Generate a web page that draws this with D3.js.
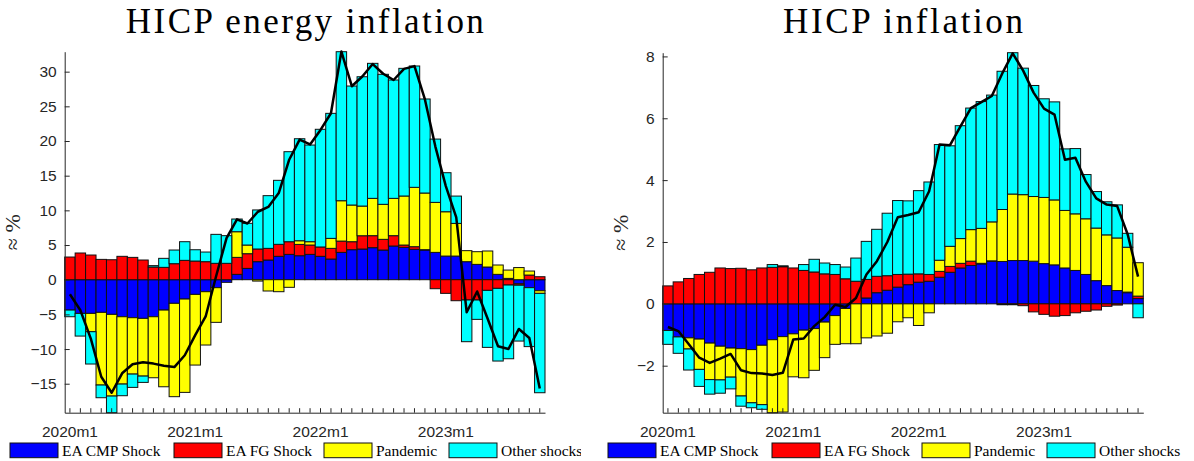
<!DOCTYPE html>
<html><head><meta charset="utf-8">
<script src="https://cdn.jsdelivr.net/npm/d3@7"></script>
<style>body{margin:0;background:#fff}svg{display:block}</style>
</head><body>
<script>
const months = ["2020m1","2020m2","2020m3","2020m4","2020m5","2020m6","2020m7","2020m8","2020m9","2020m10","2020m11","2020m12",
"2021m1","2021m2","2021m3","2021m4","2021m5","2021m6","2021m7","2021m8","2021m9","2021m10","2021m11","2021m12",
"2022m1","2022m2","2022m3","2022m4","2022m5","2022m6","2022m7","2022m8","2022m9","2022m10","2022m11","2022m12",
"2023m1","2023m2","2023m3","2023m4","2023m5","2023m6","2023m7","2023m8","2023m9","2023m10"];
const xTickLabels = ["2020m1","2021m1","2022m1","2023m1"];
const seriesNames = ["EA CMP Shock","EA FG Shock","Pandemic","Other shocks"];
const seriesColors = ["#0000ff","#ff0000","#ffff00","#00ffff"];

// HICP energy inflation
const energyCMP = [-4.38,-4.86,-4.86,-4.71,-5.0,-5.34,-5.48,-5.58,-5.34,-4.38,-3.41,-2.79,-2.12,-1.73,-1.15,-0.38,0.77,1.63,2.6,2.84,3.37,3.65,3.46,3.65,3.37,2.98,3.94,4.33,4.42,4.62,4.28,4.86,4.66,4.38,4.28,3.94,3.41,3.41,2.6,2.21,1.83,0.77,0.19,-0.6,-1.15,-1.59];
const energyFG = [3.27,3.85,3.56,2.93,2.88,3.37,3.22,2.84,1.83,1.78,2.31,2.79,2.69,2.6,2.36,2.36,2.45,2.12,1.83,1.68,1.73,1.83,1.63,1.35,1.35,1.54,1.63,1.15,1.92,1.73,1.54,1.49,0.34,0.38,0.05,-1.3,-1.97,-3.03,-2.93,-2.93,-1.54,-1.25,-0.77,-0.2,0.67,0.43];
const energyPandemic = [0,0,-2.64,-10.48,-11.78,-9.71,-8.13,-8.32,-8.8,-11.06,-13.46,-13.46,-10.19,-7.69,-5.0,0,3.7,1.25,-0.2,-1.63,-1.73,-1.1,0.53,0.48,0,1.44,5.82,5.29,4.28,5.38,5.05,5.38,7.07,8.56,8.17,7.21,6.39,4.71,1.59,1.83,2.31,1.35,1.2,1.75,0.58,-0.38];
const energyOther = [-0.96,-3.27,-4.66,-1.83,-2.4,-1.68,-1.92,-0.91,0.2,1.3,1.97,2.69,1.63,1.39,4.18,3.99,1.83,3.13,5.63,7.6,9.23,12.98,14.71,13.94,16.97,18.03,21.49,17.16,18.65,19.47,18.75,17.07,18.41,17.5,13.56,9.13,5.63,3.94,-6.01,-2.79,-8.22,-10.48,-10.63,-8.05,-8.5,-14.33];
const energyActual = [-2.1,-4.4,-8.5,-14.0,-16.3,-13.5,-12.2,-11.9,-12.1,-12.4,-12.6,-10.9,-8.0,-5.3,0.5,6.0,8.7,8.1,9.8,10.5,12.5,17.3,20.2,19.5,21.6,24.0,32.9,27.9,29.3,31.1,29.7,28.8,30.4,30.8,26.0,19.2,13.5,9.0,-4.7,-1.7,-5.6,-9.6,-10.0,-7.1,-8.4,-15.7];
const energyYTicks = [-15,-10,-5,0,5,10,15,20,25,30];

// HICP inflation
const hicpCMP = [-0.86,-1.07,-1.1,-1.14,-1.27,-1.37,-1.43,-1.45,-1.48,-1.34,-1.16,-1.06,-0.97,-0.85,-0.8,-0.59,-0.38,-0.15,0,0.19,0.36,0.44,0.54,0.62,0.7,0.73,0.86,1.02,1.16,1.24,1.29,1.38,1.37,1.4,1.4,1.38,1.3,1.26,1.16,1.08,0.95,0.75,0.59,0.43,0.36,0.17];
const hicpFG = [0.58,0.71,0.82,0.95,1.02,1.16,1.14,1.15,1.1,1.16,1.18,1.2,1.16,1.08,1.03,0.97,0.95,0.81,0.73,0.6,0.53,0.47,0.41,0.34,0.27,0.22,0.19,0.19,0.15,0.14,0.02,0.01,-0.03,-0.03,-0.06,-0.26,-0.34,-0.4,-0.38,-0.29,-0.24,-0.2,-0.08,-0.04,0.02,0.08];
const hicpPandemic = [0,0,-0.36,-0.98,-1.18,-1.09,-0.94,-1.53,-1.72,-1.92,-2.36,-2.44,-1.39,-1.54,-1.35,-1.15,-0.93,-1.14,-1.29,-1.1,-1.04,-0.95,-0.58,-0.45,-0.7,-0.29,0.36,0.65,0.8,1.02,1.13,1.26,1.68,2.15,2.13,2.09,2.14,2.1,1.86,1.83,1.8,1.7,1.64,1.7,1.45,1.08];
const hicpOther = [-0.45,-0.53,-0.68,-0.55,-0.47,-0.43,-0.38,-0.33,-0.16,-0.15,0.09,0.03,0,0.19,0.41,0.35,0.32,0.38,0.75,1.23,1.52,2.02,2.39,2.37,2.69,2.99,3.74,3.25,3.65,3.93,4.1,4.1,4.47,4.57,4.09,3.59,3.19,3.17,1.99,2.11,1.43,1.18,1.07,1.07,0.45,-0.45];
const hicpActual = [-0.75,-0.88,-1.31,-1.74,-1.91,-1.77,-1.62,-2.15,-2.24,-2.25,-2.3,-2.23,-1.15,-1.12,-0.72,-0.43,-0.03,-0.1,0.19,0.95,1.38,2.0,2.8,2.87,2.96,3.64,5.15,5.13,5.74,6.33,6.52,6.72,7.45,8.1,7.54,6.83,6.31,6.12,4.66,4.72,3.95,3.41,3.21,3.16,2.25,0.88];
const hicpYTicks = [-2,0,2,4,6,8];

const W = 1194, H = 461;
const svg = d3.select("body").append("svg").attr("width", W).attr("height", H);
const axisColor = "#262626";
const sansFont = "'Liberation Sans', Arial, sans-serif";
const serifFont = "'Liberation Serif', 'Times New Roman', serif";

function drawPanel(p) {
  const series = [p.cmp, p.fg, p.pan, p.oth];
  const x = d3.scaleBand().domain(months).range([p.left, p.right]).padding(0);
  // stack positives up and negatives down
  const stacks = series.map(() => []);
  let ymin = 0, ymax = 0;
  months.forEach((m, i) => {
    let pos = 0, neg = 0;
    series.forEach((s, k) => {
      const v = s[i];
      let a, b;
      if (v >= 0) { a = pos; b = pos + v; pos = b; } else { a = neg; b = neg + v; neg = b; }
      stacks[k].push({m, a, b});
    });
    ymin = Math.min(ymin, neg); ymax = Math.max(ymax, pos);
  });
  const y = d3.scaleLinear().domain([ymin, ymax]).range([p.bottom, p.top]);
  const g = svg.append("g");

  stacks.forEach((st, k) => {
    g.append("g").selectAll("rect").data(st.filter(d => Math.abs(d.b - d.a) > 1e-9)).join("rect")
      .attr("x", d => x(d.m)).attr("width", x.bandwidth())
      .attr("y", d => y(Math.max(d.a, d.b)))
      .attr("height", d => Math.abs(y(d.a) - y(d.b)))
      .attr("fill", seriesColors[k]).attr("stroke", "#111").attr("stroke-width", 1);
  });

  const line = d3.line().x((d, i) => x(months[i]) + x.bandwidth() / 2).y(d => y(d));
  g.append("path").datum(p.actual).attr("d", line)
    .attr("fill", "none").attr("stroke", "#000").attr("stroke-width", 2.5).attr("stroke-linejoin", "round");

  // axes
  const yAxis = d3.axisLeft(y).tickValues(p.yTicks).tickSize(-5).tickSizeOuter(0).tickPadding(8).tickFormat(d3.format("d"));
  const ga = g.append("g").attr("transform", `translate(${p.left},0)`).call(yAxis);
  ga.select(".domain").attr("stroke", axisColor);
  ga.selectAll(".tick line").attr("stroke", axisColor);
  ga.selectAll("text").attr("font-family", sansFont).attr("font-size", 15.5).attr("fill", axisColor);

  const xAxis = d3.axisBottom(x).tickSize(-4.5).tickSizeOuter(0).tickPadding(13)
    .tickFormat(d => xTickLabels.includes(d) ? d : "");
  const gx = g.append("g").attr("transform", `translate(0,${p.bottom})`).call(xAxis);
  gx.select(".domain").attr("stroke", axisColor);
  gx.selectAll(".tick line").attr("stroke", axisColor);
  gx.selectAll("text").attr("font-family", sansFont).attr("font-size", 15.5).attr("fill", axisColor);

  // title
  g.append("text").attr("x", (p.left + p.right) / 2).attr("y", 33)
    .attr("text-anchor", "middle").attr("font-family", serifFont).attr("font-size", 35)
    .attr("textLength", p.titleLen).attr("lengthAdjust", "spacing")
    .attr("fill", "#000").text(p.title);

  // y label
  g.append("text").attr("transform", `translate(${p.ylabX},${(p.top + p.bottom) / 2}) rotate(-90)`)
    .attr("text-anchor", "middle").attr("font-family", serifFont).attr("font-size", 22)
    .attr("fill", axisColor).text("≈ %");

  // legend
  const lg = svg.append("g");
  if (p.legendClip) {
    svg.append("clipPath").attr("id", p.legendClip).append("rect")
      .attr("x", 0).attr("y", 430).attr("width", 581).attr("height", 31);
    lg.attr("clip-path", `url(#${p.legendClip})`);
  }
  const boxOffsets = [-54.7, 109.3, 259.3, 384.3];
  seriesNames.forEach((name, k) => {
    const bx = p.left + boxOffsets[k];
    lg.append("rect").attr("x", bx).attr("y", 443).attr("width", 48).attr("height", 14.7)
      .attr("fill", seriesColors[k]).attr("stroke", "#111").attr("stroke-width", 1);
    lg.append("text").attr("x", bx + 52).attr("y", 455.5)
      .attr("font-family", serifFont).attr("font-size", 15.5).attr("fill", "#000").text(name);
  });
}

drawPanel({left: 64.7, right: 545, top: 51.7, bottom: 412.7,
  cmp: energyCMP, fg: energyFG, pan: energyPandemic, oth: energyOther, actual: energyActual,
  yTicks: energyYTicks, title: "HICP energy inflation", titleLen: 358, ylabX: 20, legendClip: "clipL"});
drawPanel({left: 662.7, right: 1143.3, top: 52.7, bottom: 412.7,
  cmp: hicpCMP, fg: hicpFG, pan: hicpPandemic, oth: hicpOther, actual: hicpActual,
  yTicks: hicpYTicks, title: "HICP inflation", titleLen: 240, ylabX: 628, legendClip: null});
</script>
</body></html>
